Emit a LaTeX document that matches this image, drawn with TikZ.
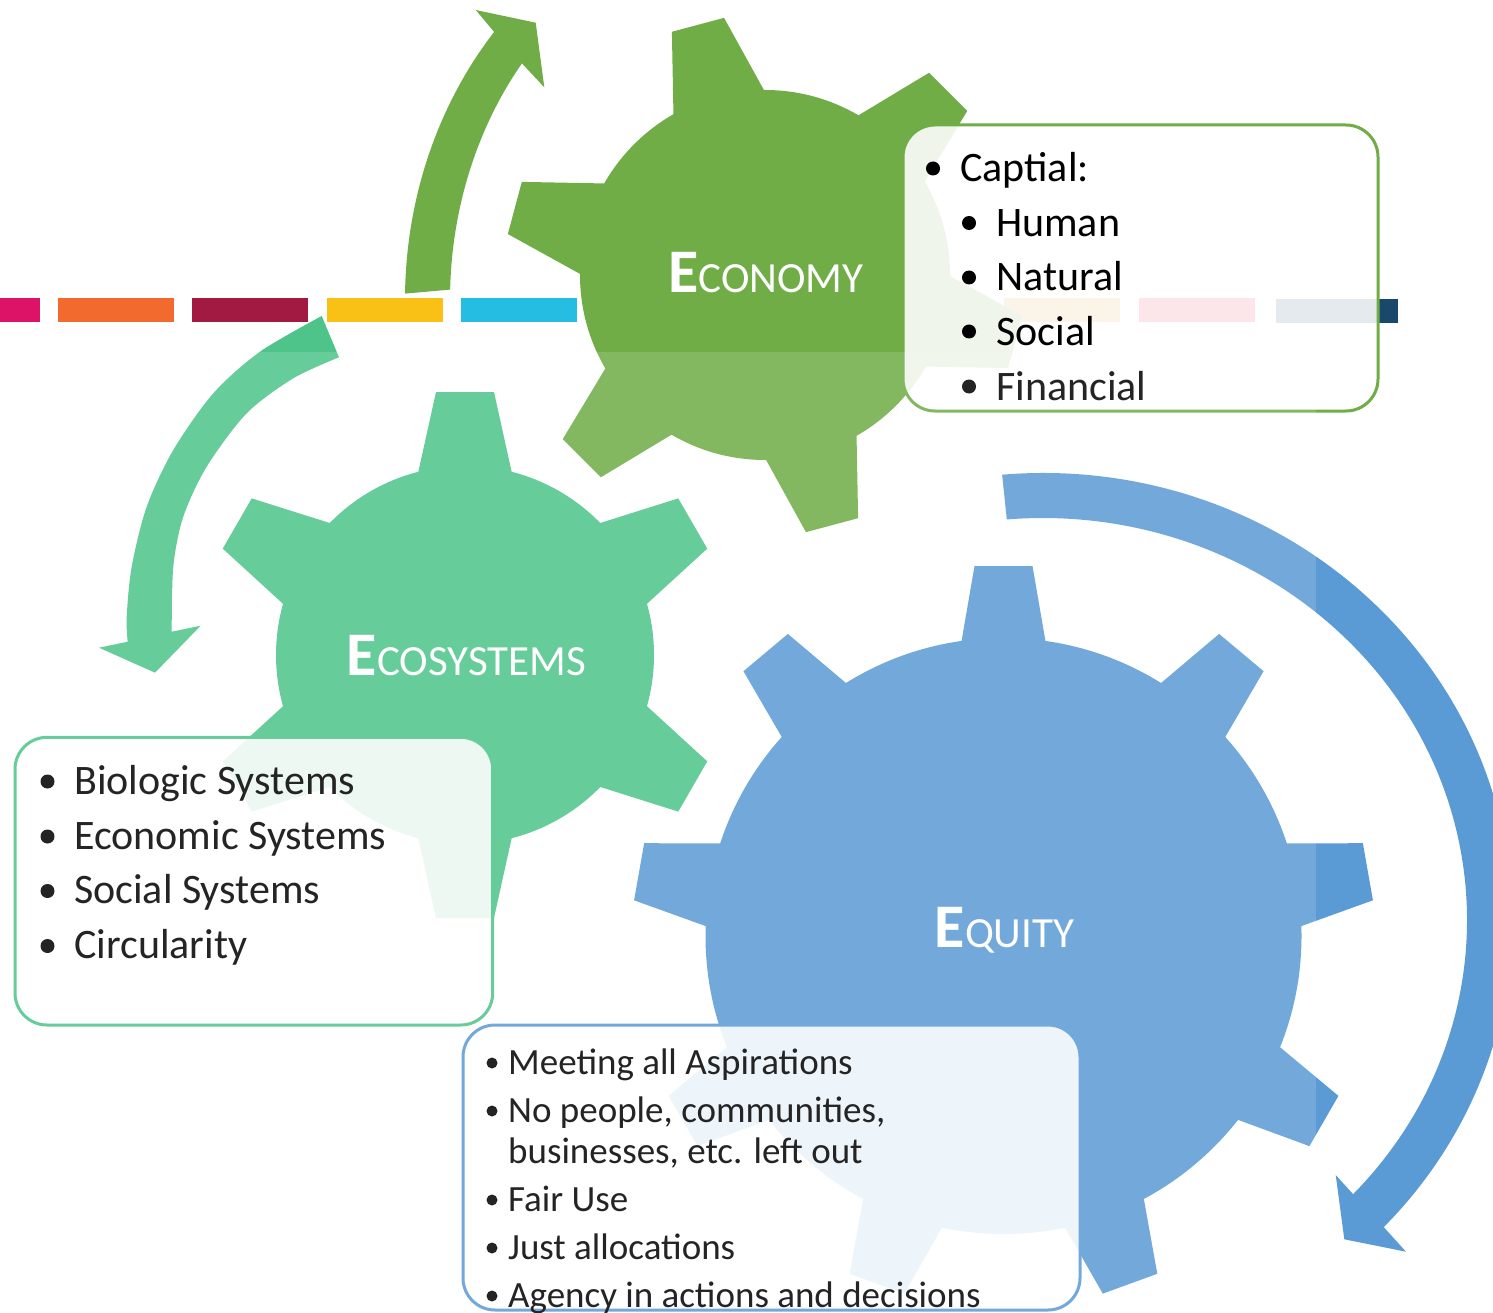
\documentclass[tikz,border=0pt]{standalone}
\usepackage{fontspec}
\usetikzlibrary{calc}
\setmainfont{Carlito}
\definecolor{econ}{HTML}{70AD47}
\definecolor{eco}{HTML}{4EC48A}
\definecolor{equ}{HTML}{5B9BD5}
\definecolor{sdgTen}{HTML}{DD1367}
\definecolor{sdgNine}{HTML}{F26A2D}
\definecolor{sdgEight}{HTML}{A21942}
\definecolor{sdgSeven}{HTML}{F9C116}
\definecolor{sdgSix}{HTML}{26BDE2}
\definecolor{sdgTwo}{HTML}{DDA63A}
\definecolor{sdgOne}{HTML}{E5243B}
\definecolor{sdgSeventeen}{HTML}{19486A}
\newcommand{\gearshape}[9]{%
  \fill (#1,#2) circle[radius=#3];
  \foreach \k in {1,...,#8}{%
    \pgfmathsetmacro\ang{#9+360/#8*(\k-1)}%
    \fill[shift={(#1,#2)},rotate=\ang] (#4,-#5) -- (#6,-#7) -- (#6,#7) -- (#4,#5) -- cycle;
  }%
}
\tikzset{
  boxstyle/.style={line width=3pt, fill=white, fill opacity=0.89, rounded corners=32pt},
  bigitem/.style={anchor=base west, inner sep=0pt, text=black, font=\fontsize{42}{50}\selectfont},
  smallitem/.style={anchor=base west, inner sep=0pt, text=black, font=\fontsize{37}{44}\selectfont},
  title/.style={anchor=base, inner sep=0pt, text=white}
}
\newcommand{\gtitle}[2]{{\fontsize{62}{62}\selectfont\bfseries #1}{\fontsize{43}{43}\selectfont #2}}
\begin{document}
\begin{tikzpicture}[x=1pt,y=-1pt]
\useasboundingbox (0,0) rectangle (1493,1313);
\clip (0,0) rectangle (1493,1313);
% colour bar
\fill[sdgTen] (-20,298) rectangle (40,322);
\fill[sdgNine] (58,298) rectangle (174,322);
\fill[sdgEight] (192,298) rectangle (308,322);
\fill[sdgSeven] (327,298) rectangle (443,322);
\fill[sdgSix] (461,298) rectangle (577,322);
\fill[sdgTwo] (1004,298) rectangle (1120,322);
\fill[sdgOne] (1139,298) rectangle (1255,322);
\fill[sdgSeventeen] (1276,299) rectangle (1398,323);
% gears
\begin{scope}[econ]
\gearshape{765}{275}{185}{150}{54}{259}{27}{6}{45}
\end{scope}
\begin{scope}[eco]
\gearshape{465}{655}{189}{150}{54}{263}{29}{6}{30}
\end{scope}
\begin{scope}[equ]
\gearshape{1003.5}{936}{298}{260}{48}{370}{29}{9}{10}
\end{scope}
% arrows
\fill[econ] ($(765,300)+(180.9:360 and 407)$) arc[start angle=180.9, end angle=221.2, x radius=360, y radius=407]
  -- (475.7,10) -- (535.7,22.7) -- (544.3,87.3)
  -- ($(765,300)+(219.5:315 and 372)$) arc[start angle=219.5, end angle=181.6, x radius=315, y radius=372] -- cycle;
\fill[eco] plot[smooth] coordinates {(321.7,316) (260,351.7) (213.3,393.3) (173.3,450) (146.7,506.7) (131.7,566.7) (126.7,616.7) (127.7,641.7)}
  -- (99,647.7) -- (155,672.7) -- (200.7,625.7) -- (171.7,631.7)
  -- plot[smooth] coordinates {(171.7,631.7) (173.3,566.7) (183.3,516.7) (206.7,466.7) (246.7,413.3) (293.3,378.3) (339,357.3)} -- cycle;
\fill[equ] ($(1043,920)+(-95:469 and 447)$) arc[start angle=-95, end angle=43.4, x radius=469, y radius=447]
  -- (1406,1251.7) -- (1344.3,1239.3) -- (1335.7,1175)
  -- ($(1043,920)+(43:424 and 402)$) arc[start angle=43, end angle=-94.9, x radius=424, y radius=402] -- cycle;
% titles
\node[title] (tEcon) at (766,293) {\gtitle{E}{CONOMY}};
\node[title] (tEco) at (466.5,675) {\gtitle{E}{COSYSTEMS}};
\node[title] (tEqu) at (1004.5,947) {\gtitle{E}{QUITY}};
% boxes
\draw[boxstyle, draw=econ] (903,125) rectangle (1378,411);
\draw[boxstyle, draw=eco] (15,737.3) rectangle (492.7,1025);
\draw[boxstyle, draw=equ] (463,1025) rectangle (1080,1310);
% economy box text
\fill (933,168.5) circle[radius=7];
\node[bigitem] (c0) at (960,182) {Captial:};
\fill (969,223) circle[radius=7];
\node[bigitem] (c1) at (996,236.7) {Human};
\fill (969,277.5) circle[radius=7];
\node[bigitem] (c2) at (996,291) {Natural};
\fill (969,331.5) circle[radius=7];
\node[bigitem] (c3) at (996,345) {Social};
\fill (969,386.5) circle[radius=7];
\node[bigitem] (c4) at (996,400) {Financial};
% ecosystems box text
\fill (47.5,781.5) circle[radius=7];
\node[bigitem] (e1) at (74,794) {Biologic Systems};
\fill (47.5,836.5) circle[radius=7];
\node[bigitem] (e2) at (74,849) {Economic Systems};
\fill (47.5,891) circle[radius=7];
\node[bigitem] (e3) at (74,903.3) {Social Systems};
\fill (47.5,946) circle[radius=7];
\node[bigitem] (e4) at (74,958.3) {Circularity};
% equity box text
\fill (492,1063) circle[radius=5.5];
\node[smallitem] (q1) at (508,1074) {Meeting all Aspirations};
\fill (492,1111) circle[radius=5.5];
\node[smallitem] (q2) at (508,1122) {No people, communities,};
\node[smallitem] (q3) at (508,1163) {businesses, etc. left out};
\fill (492,1200) circle[radius=5.5];
\node[smallitem] (q4) at (508,1211) {Fair Use};
\fill (492,1248) circle[radius=5.5];
\node[smallitem] (q5) at (508,1259) {Just allocations};
\fill (492,1296) circle[radius=5.5];
\node[smallitem] (q6) at (508,1307) {Agency in actions and decisions};
% light overlay
\fill[white, opacity=0.14] (0,352) rectangle (1316,1313);
\end{tikzpicture}
\end{document}
